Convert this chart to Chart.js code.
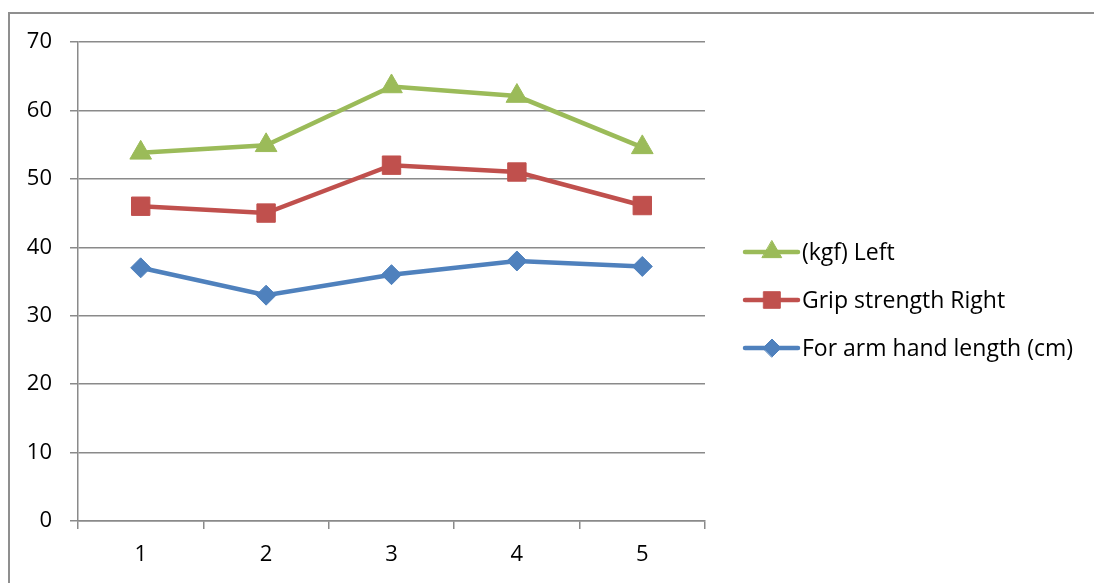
<!DOCTYPE html>
<html><head><meta charset="utf-8">
<script src="https://cdn.jsdelivr.net/npm/chart.js@4.4.1/dist/chart.umd.min.js"></script>
<style>
html,body{margin:0;padding:0;background:#fff;}
#wrap{position:relative;width:1094px;height:583px;overflow:hidden;background:#fff;}
#frame{position:absolute;left:8px;top:12px;width:1200px;height:700px;border-left:2px solid #8f8f8f;border-top:2px solid #8f8f8f;}
canvas{position:absolute;left:0;top:0;}
</style></head><body>
<div id="wrap"><div id="frame"></div><canvas id="c" width="1094" height="583"></canvas></div>
<script>
// ---- data ----
const categories = ['1', '2', '3', '4', '5'];
const armHandLength = [37, 33, 36, 38, 37.2];
const gripRight = [46, 45, 52, 51, 46.1];
const kgfLeft = [53.8, 54.9, 63.5, 62.1, 54.6];
const seriesLabels = ['For arm hand length (cm)', 'Grip strength Right', '(kgf) Left'];
const yMin = 0, yMax = 70, yStep = 10;

// ---- styles ----
const FONT = '"Open Sans", Lato, sans-serif';
const FS = 22;
const LFS = 23;
const GRID = '#8a8a8a';
const colors = ['#4F81BD', '#C0504D', '#9BBB59'];
const styles = ['rectRot', 'rect', 'triangle'];
const radii = [10, 13, 12.5];

const datasets = [armHandLength, gripRight, kgfLeft].map((vals, i) => ({
  label: seriesLabels[i],
  data: vals,
  borderColor: colors[i],
  backgroundColor: colors[i],
  borderWidth: 4.5,
  pointStyle: styles[i],
  pointRadius: radii[i],
  pointHoverRadius: radii[i],
  pointBackgroundColor: colors[i],
  pointBorderColor: colors[i],
  pointBorderWidth: 1,
  tension: 0,
  clip: false
}));

const sideLegend = {
  id: 'sideLegend',
  afterDraw(chart) {
    const ctx = chart.ctx;
    const ds = chart.data.datasets;
    const order = [2, 1, 0];
    const x0 = chart.chartArea.right + 39;
    const yMid = 300;
    order.forEach((di, row) => {
      const d = ds[di];
      const y = yMid + (row - 1) * 48;
      ctx.save();
      ctx.strokeStyle = d.borderColor;
      ctx.lineWidth = 4.5;
      ctx.lineCap = 'round';
      ctx.beginPath();
      ctx.moveTo(x0 + 1, y);
      ctx.lineTo(x0 + 54, y);
      ctx.stroke();
      ctx.fillStyle = d.backgroundColor;
      ctx.strokeStyle = d.borderColor;
      ctx.lineWidth = 1;
      Chart.helpers.drawPoint(ctx, {pointStyle: d.pointStyle, radius: d.pointRadius * 0.9, rotation: 0, borderWidth: 1}, x0 + 28, y);
      ctx.fillStyle = '#000';
      ctx.font = LFS + 'px ' + FONT;
      ctx.textBaseline = 'middle';
      ctx.textAlign = 'left';
      ctx.fillText(d.label, x0 + 58, y + 1);
      ctx.restore();
    });
  }
};

new Chart(document.getElementById('c'), {
  type: 'line',
  data: { labels: categories, datasets },
  plugins: [sideLegend],
  options: {
    responsive: false,
    animation: false,
    devicePixelRatio: 1,
    layout: { padding: { left: 0, top: 42, right: 389, bottom: 0 } },
    plugins: { legend: { display: false }, tooltip: { enabled: false } },
    scales: {
      x: {
        type: 'category',
        offset: true,
        grid: { offset: true, drawOnChartArea: false, drawTicks: true, tickLength: 8, color: GRID, lineWidth: 1.5 },
        border: { display: true, color: GRID, width: 1.5 },
        ticks: { font: { family: FONT, size: FS }, color: '#000', padding: 13 },
        afterFit: s => { s.height = 62; }
      },
      y: {
        min: yMin, max: yMax,
        grid: { color: GRID, lineWidth: 1.5, tickLength: 8, drawTicks: true },
        border: { display: true, color: GRID, width: 1.5 },
        ticks: { stepSize: yStep, font: { family: FONT, size: FS }, color: '#000', padding: 18 },
        afterFit: s => { s.width = 78; }
      }
    }
  }
});
</script>
</body></html>
